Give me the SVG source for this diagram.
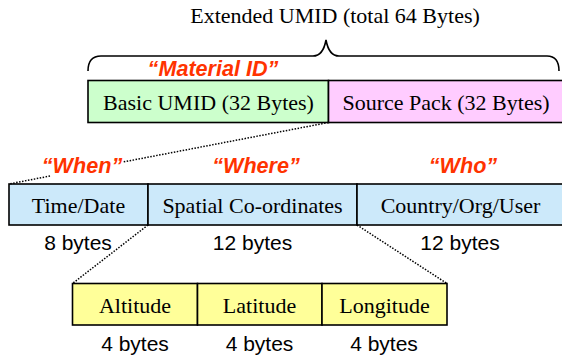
<svg xmlns="http://www.w3.org/2000/svg" width="562" height="358" viewBox="0 0 562 358">
  <style>
    .box { stroke: #000; stroke-width: 1.6; }
    .green { fill: #ccffcc; }
    .pink { fill: #ffccff; }
    .blue { fill: #cce9fa; }
    .yellow { fill: #ffff99; }
    .serif { font-family: "Liberation Serif", "Times New Roman", serif; font-size: 22px; fill: #000; text-anchor: middle; }
    .sans { font-family: "Liberation Sans", Arial, sans-serif; font-size: 21px; fill: #000; text-anchor: middle; }
    .tag { font-family: "Liberation Sans", Arial, sans-serif; font-size: 21.6px; font-weight: bold; font-style: italic; fill: #ff3300; text-anchor: middle; }
    .dot { stroke: #000; stroke-width: 1.5; stroke-dasharray: 1.5 1.5; fill: none; }
    .brace { stroke: #000; stroke-width: 1.6; fill: none; }
  </style>

  <!-- Title and brace over the full 64-byte identifier -->
  <g id="extended-umid">
    <text class="serif" x="335" y="23">Extended UMID (total 64 Bytes)</text>
    <path class="brace" d="M88,71 C88,61 92,56 101,56 L313,56 C320,56 324,51 326,40 C328,51 332,56 339,56 L547,56 C555,56 559,61 559,71"/>
  </g>

  <g id="material-id-label">
    <text class="tag" x="213" y="76">“Material ID”</text>
  </g>

  <!-- Top row -->
  <g id="basic-umid">
    <rect class="box green" x="88" y="80.5" width="240.5" height="42"/>
    <text class="serif" x="208.5" y="110">Basic UMID (32 Bytes)</text>
  </g>
  <g id="source-pack">
    <rect class="box pink" x="328.5" y="80.5" width="240" height="42"/>
    <text class="serif" x="446" y="110">Source Pack (32 Bytes)</text>
  </g>

  <!-- Middle row: source pack breakdown -->
  <g id="time-date">
    <text class="tag" x="82" y="173">“When”</text>
    <rect class="box blue" x="9" y="184" width="139" height="41"/>
    <text class="serif" x="78.5" y="213">Time/Date</text>
    <text class="sans" x="78" y="250">8 bytes</text>
  </g>
  <g id="spatial">
    <text class="tag" x="256" y="173">“Where”</text>
    <rect class="box blue" x="148" y="184" width="209" height="41"/>
    <text class="serif" x="252.5" y="213">Spatial Co-ordinates</text>
    <text class="sans" x="252.5" y="250">12 bytes</text>
  </g>
  <g id="country-org-user">
    <text class="tag" x="463" y="173">“Who”</text>
    <rect class="box blue" x="357" y="184" width="210" height="41"/>
    <text class="serif" x="460.5" y="213">Country/Org/User</text>
    <text class="sans" x="460" y="250">12 bytes</text>
  </g>

  <!-- Bottom row: spatial co-ordinates breakdown -->
  <g id="altitude">
    <rect class="box yellow" x="72.5" y="283.5" width="125" height="41.5"/>
    <text class="serif" x="135" y="313">Altitude</text>
    <text class="sans" x="135" y="351">4 bytes</text>
  </g>
  <g id="latitude">
    <rect class="box yellow" x="197.5" y="283.5" width="124.5" height="41.5"/>
    <text class="serif" x="259.5" y="313">Latitude</text>
    <text class="sans" x="259.5" y="351">4 bytes</text>
  </g>
  <g id="longitude">
    <rect class="box yellow" x="322" y="283.5" width="125" height="41.5"/>
    <text class="serif" x="384.5" y="313">Longitude</text>
    <text class="sans" x="384" y="351">4 bytes</text>
  </g>

  <!-- Dotted expansion lines -->
  <g id="connectors">
    <line class="dot" x1="328.5" y1="122.5" x2="123" y2="162"/>
    <line class="dot" x1="50" y1="176" x2="9" y2="184"/>
    <line class="dot" x1="148" y1="225" x2="72.5" y2="283.5"/>
    <line class="dot" x1="357" y1="225" x2="447" y2="283.5"/>
  </g>
</svg>
